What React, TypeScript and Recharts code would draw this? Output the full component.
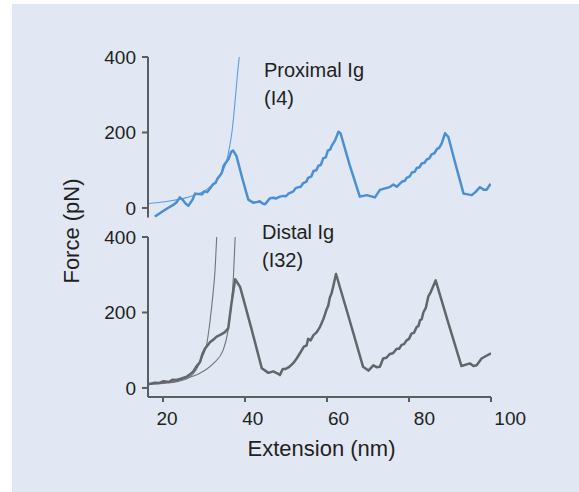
import { LineChart, Line, XAxis, YAxis } from 'recharts'

// extension (nm) vs force (pN)
const proximalTrace = [
  { ext: 18.0, force: -23 }, { ext: 19.5, force: -12 }, { ext: 20.9, force: -2 }, { ext: 22.5, force: 8 },
  { ext: 23.4, force: 16 }, { ext: 24.1, force: 28 }, { ext: 24.8, force: 22 }, { ext: 25.5, force: 12 },
  { ext: 26.2, force: 6 }, { ext: 27.2, force: 22 }, { ext: 27.8, force: 38 }, { ext: 28.6, force: 37 },
  { ext: 29.5, force: 36 }, { ext: 30.1, force: 44 }, { ext: 30.8, force: 42 }, { ext: 31.5, force: 52 },
  { ext: 32.3, force: 64 }, { ext: 32.8, force: 66 }, { ext: 33.3, force: 78 }, { ext: 34.3, force: 92 },
  { ext: 34.8, force: 112 }, { ext: 35.3, force: 120 }, { ext: 36.0, force: 130 }, { ext: 36.6, force: 148 },
  { ext: 37.1, force: 152 }, { ext: 37.9, force: 138 }, { ext: 39.3, force: 80 }, { ext: 40.8, force: 22 },
  { ext: 42.0, force: 14 }, { ext: 43.0, force: 16 }, { ext: 43.6, force: 18 }, { ext: 44.3, force: 12 },
  { ext: 44.9, force: 10 }, { ext: 46.1, force: 26 }, { ext: 47.0, force: 27 }, { ext: 47.5, force: 25 },
  { ext: 48.5, force: 30 }, { ext: 49.4, force: 32 }, { ext: 50.0, force: 31 }, { ext: 50.6, force: 38 },
  { ext: 51.8, force: 44 }, { ext: 52.3, force: 52 }, { ext: 53.0, force: 55 }, { ext: 53.6, force: 56 },
  { ext: 54.2, force: 66 }, { ext: 55.0, force: 70 }, { ext: 55.4, force: 80 }, { ext: 56.2, force: 84 },
  { ext: 56.7, force: 98 }, { ext: 57.4, force: 100 }, { ext: 57.9, force: 112 }, { ext: 58.5, force: 114 },
  { ext: 59.1, force: 132 }, { ext: 59.7, force: 134 }, { ext: 60.2, force: 152 }, { ext: 60.8, force: 155 },
  { ext: 61.1, force: 164 }, { ext: 62.0, force: 180 }, { ext: 62.8, force: 202 }, { ext: 63.3, force: 198 },
  { ext: 65.5, force: 115 }, { ext: 68.0, force: 30 }, { ext: 69.7, force: 34 }, { ext: 71.7, force: 28 },
  { ext: 72.9, force: 48 }, { ext: 74.2, force: 52 }, { ext: 75.4, force: 56 }, { ext: 76.2, force: 62 },
  { ext: 77.0, force: 56 }, { ext: 78.3, force: 70 }, { ext: 79.0, force: 72 }, { ext: 79.4, force: 80 },
  { ext: 80.2, force: 84 }, { ext: 80.7, force: 94 }, { ext: 81.4, force: 96 }, { ext: 81.9, force: 106 },
  { ext: 82.6, force: 108 }, { ext: 83.1, force: 118 }, { ext: 83.8, force: 120 }, { ext: 84.3, force: 128 },
  { ext: 85.0, force: 132 }, { ext: 85.5, force: 142 }, { ext: 86.2, force: 145 }, { ext: 86.8, force: 156 },
  { ext: 87.4, force: 160 }, { ext: 88.0, force: 172 }, { ext: 88.8, force: 198 }, { ext: 89.6, force: 188 },
  { ext: 91.5, force: 110 }, { ext: 93.3, force: 38 }, { ext: 95.3, force: 34 }, { ext: 96.2, force: 42 },
  { ext: 97.3, force: 55 }, { ext: 98.3, force: 48 }, { ext: 98.9, force: 48 }, { ext: 99.9, force: 64 },
]

const proximalFit = [
  { ext: 16.5, force: 12 }, { ext: 20, force: 16 }, { ext: 24, force: 23 }, { ext: 28, force: 35 },
  { ext: 31, force: 52 }, { ext: 33, force: 72 }, { ext: 34.5, force: 95 }, { ext: 35.5, force: 125 },
  { ext: 36.2, force: 160 }, { ext: 36.8, force: 200 }, { ext: 37.3, force: 250 }, { ext: 37.8, force: 310 },
  { ext: 38.3, force: 370 }, { ext: 38.6, force: 400 },
]

const distalTrace = [
  { ext: 16.4, force: 10 }, { ext: 18.0, force: 14 }, { ext: 19.0, force: 13 }, { ext: 20.1, force: 18 },
  { ext: 21.5, force: 16 }, { ext: 22.4, force: 22 }, { ext: 23.3, force: 21 }, { ext: 24.5, force: 25 },
  { ext: 25.8, force: 30 }, { ext: 26.6, force: 36 }, { ext: 27.4, force: 44 }, { ext: 28.2, force: 58 },
  { ext: 29.0, force: 68 }, { ext: 29.6, force: 90 }, { ext: 30.2, force: 104 }, { ext: 30.8, force: 112 },
  { ext: 31.5, force: 122 }, { ext: 32.3, force: 128 }, { ext: 33.1, force: 136 }, { ext: 34.2, force: 142 },
  { ext: 35.1, force: 148 }, { ext: 35.9, force: 158 }, { ext: 36.7, force: 224 }, { ext: 37.6, force: 288 },
  { ext: 38.8, force: 268 }, { ext: 41.5, force: 160 }, { ext: 44.1, force: 52 }, { ext: 45.7, force: 40 },
  { ext: 46.9, force: 44 }, { ext: 48.0, force: 38 }, { ext: 48.5, force: 34 }, { ext: 49.2, force: 50 },
  { ext: 49.8, force: 50 }, { ext: 50.8, force: 56 }, { ext: 51.8, force: 66 }, { ext: 52.6, force: 78 },
  { ext: 53.4, force: 92 }, { ext: 54.4, force: 110 }, { ext: 55.0, force: 112 }, { ext: 55.4, force: 130 },
  { ext: 56.0, force: 126 }, { ext: 56.7, force: 140 }, { ext: 57.5, force: 148 }, { ext: 58.3, force: 162 },
  { ext: 59.1, force: 182 }, { ext: 59.9, force: 208 }, { ext: 60.3, force: 218 }, { ext: 60.7, force: 240 },
  { ext: 61.1, force: 250 }, { ext: 61.5, force: 268 }, { ext: 62.2, force: 302 }, { ext: 65.5, force: 180 },
  { ext: 68.8, force: 56 }, { ext: 70.1, force: 46 }, { ext: 71.3, force: 60 }, { ext: 72.1, force: 55 },
  { ext: 72.9, force: 56 }, { ext: 73.7, force: 78 }, { ext: 74.5, force: 80 }, { ext: 75.3, force: 90 },
  { ext: 76.1, force: 92 }, { ext: 77.0, force: 104 }, { ext: 77.6, force: 104 }, { ext: 78.2, force: 114 },
  { ext: 78.8, force: 116 }, { ext: 79.4, force: 126 }, { ext: 80.0, force: 130 }, { ext: 80.6, force: 144 },
  { ext: 81.2, force: 146 }, { ext: 81.9, force: 162 }, { ext: 82.3, force: 164 }, { ext: 82.7, force: 180 },
  { ext: 83.1, force: 182 }, { ext: 83.5, force: 200 }, { ext: 84.1, force: 212 }, { ext: 84.7, force: 242 },
  { ext: 85.3, force: 254 }, { ext: 86.5, force: 285 }, { ext: 89.6, force: 172 }, { ext: 92.8, force: 58 },
  { ext: 94.9, force: 65 }, { ext: 95.7, force: 58 }, { ext: 96.5, force: 60 }, { ext: 97.7, force: 78 },
  { ext: 99.0, force: 86 }, { ext: 100, force: 92 },
]

const distalFitA = [
  { ext: 16.4, force: 10 }, { ext: 20, force: 12 }, { ext: 24, force: 18 }, { ext: 26.5, force: 28 },
  { ext: 28.2, force: 50 }, { ext: 29.5, force: 80 }, { ext: 30.7, force: 118 }, { ext: 31.5, force: 180 },
  { ext: 32.2, force: 250 }, { ext: 32.7, force: 313 }, { ext: 33.1, force: 400 },
]

const distalFitB = [
  { ext: 16.5, force: 10 }, { ext: 20, force: 14 }, { ext: 25, force: 24 }, { ext: 29, force: 39 },
  { ext: 32.3, force: 65 }, { ext: 34.7, force: 101 }, { ext: 35.9, force: 154 }, { ext: 36.7, force: 224 },
  { ext: 37.2, force: 300 }, { ext: 37.6, force: 400 },
]

const extTicks = [20, 40, 60, 80, 100]
const forceTicks = [0, 200, 400]

const FONT = '"Liberation Sans", Arial, Helvetica, sans-serif'
const TEXT = '#231f20'
const AXIS = '#5a5d62'
const BLUE = '#4a8fd3'
const GRAY = '#626569'

const axisStyle = { stroke: AXIS, strokeWidth: 2 }

// the printed labels drift right of their ticks
const ExtTick = ({ x, y, payload }: { x: number; y: number; payload: { value: number } }) => (
  <text
    x={x + 4 + (payload.value - 20) * 0.19}
    y={y}
    dy="0.71em"
    textAnchor="middle"
    fontSize={19}
    fill={TEXT}
  >
    {payload.value}
  </text>
)

export default function App() {
  return (
    <div style={{ position: 'absolute', left: 0, top: 0, width: 579, height: 492, background: '#fff', fontFamily: FONT }}>
      <div style={{ position: 'absolute', left: 12, top: 4, width: 567, height: 488, background: '#e1e8f4' }} />

      {/* proximal panel */}
      <div style={{ position: 'absolute', left: 0, top: 0 }}>
        <LineChart width={579} height={492} margin={{ top: 57, right: 88, bottom: 274.6, left: 0 }}>
          <XAxis type="number" dataKey="ext" domain={[16.34, 100]} hide height={0} allowDataOverflow />
          <YAxis
            type="number"
            width={148}
            domain={[-25, 400]}
            ticks={forceTicks}
            allowDataOverflow
            axisLine={axisStyle}
            tickLine={axisStyle}
            tickSize={6}
            tickMargin={6}
            tick={{ fontSize: 19, fill: TEXT }}
          />
          <Line data={proximalFit} dataKey="force" type="monotone" stroke="#5c9be0" strokeWidth={1.1} dot={false} isAnimationActive={false} />
          <Line data={proximalTrace} dataKey="force" type="linear" stroke={BLUE} strokeWidth={2.5} dot={false} strokeLinejoin="round" isAnimationActive={false} />
        </LineChart>
      </div>

      {/* distal panel */}
      <div style={{ position: 'absolute', left: 0, top: 0 }}>
        <LineChart width={579} height={492} margin={{ top: 237, right: 88, bottom: 0, left: 0 }}>
          <XAxis
            type="number"
            dataKey="ext"
            domain={[16.34, 100]}
            ticks={extTicks}
            allowDataOverflow
            height={95}
            axisLine={axisStyle}
            tickLine={axisStyle}
            tickSize={5}
            tickMargin={10}
            tick={ExtTick}
            label={{ value: 'Extension (nm)', position: 'insideTop', offset: 43, dx: 2, fontSize: 22, fill: TEXT }}
          />
          <YAxis
            type="number"
            width={148}
            domain={[-24, 400]}
            ticks={forceTicks}
            allowDataOverflow
            axisLine={axisStyle}
            tickLine={axisStyle}
            tickSize={6}
            tickMargin={6}
            tick={{ fontSize: 19, fill: TEXT }}
          />
          <Line data={distalFitA} dataKey="force" type="monotone" stroke="#717479" strokeWidth={1.1} dot={false} isAnimationActive={false} />
          <Line data={distalFitB} dataKey="force" type="monotone" stroke="#717479" strokeWidth={1.1} dot={false} isAnimationActive={false} />
          <Line data={distalTrace} dataKey="force" type="linear" stroke={GRAY} strokeWidth={2.5} dot={false} strokeLinejoin="round" isAnimationActive={false} />
        </LineChart>
      </div>

      <div
        style={{
          position: 'absolute',
          left: 72,
          top: 231,
          transform: 'translate(-50%, -50%) rotate(-90deg)',
          whiteSpace: 'nowrap',
          fontSize: 22,
          lineHeight: '22px',
          color: TEXT,
        }}
      >
        Force (pN)
      </div>

      <div style={{ position: 'absolute', left: 264, top: 56, fontSize: 20, lineHeight: '28px', color: TEXT }}>
        Proximal Ig
        <br />
        (I4)
      </div>
      <div style={{ position: 'absolute', left: 262, top: 218, fontSize: 20, lineHeight: '28px', color: TEXT }}>
        Distal Ig
        <br />
        (I32)
      </div>
    </div>
  )
}
